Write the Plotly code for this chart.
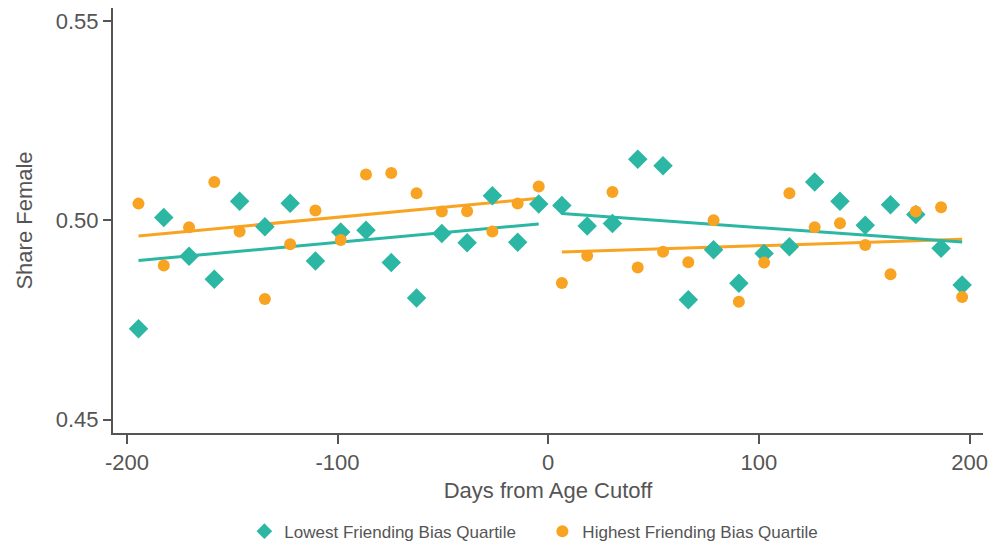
import numpy as np
import plotly.graph_objects as go

# Bin centers (days from the school-entry age cutoff)
days_left = [-194.5, -182.5, -170.5, -158.5, -146.5, -134.5, -122.5, -110.5, -98.5,
             -86.5, -74.5, -62.5, -50.5, -38.5, -26.5, -14.5, -4.5]
days_right = [6.5, 18.5, 30.5, 42.5, 54.5, 66.5, 78.5, 90.5, 102.5, 114.5, 126.5,
              138.5, 150.5, 162.5, 174.5, 186.5, 196.5]

# Share female, lowest friending-bias quartile
low_left = [0.4728, 0.5007, 0.4910, 0.4852, 0.5048, 0.4984, 0.5043, 0.4898, 0.4971,
            0.4975, 0.4894, 0.4805, 0.4967, 0.4944, 0.5062, 0.4945, 0.5041]
low_right = [0.5037, 0.4986, 0.4992, 0.5153, 0.5137, 0.4801, 0.4926, 0.4842, 0.4917,
             0.4934, 0.5096, 0.5048, 0.4988, 0.5039, 0.5015, 0.4930, 0.4838]

# Share female, highest friending-bias quartile
high_left = [0.5042, 0.4887, 0.4983, 0.5096, 0.4972, 0.4803, 0.4940, 0.5025, 0.4951,
             0.5115, 0.5119, 0.5068, 0.5022, 0.5023, 0.4972, 0.5042, 0.5085]
high_right = [0.4843, 0.4911, 0.5071, 0.4882, 0.4921, 0.4895, 0.5000, 0.4796, 0.4894,
              0.5068, 0.4983, 0.4993, 0.4938, 0.4865, 0.5022, 0.5033, 0.4808]

x_ticks = [-200, -100, 0, 100, 200]
y_ticks = [0.45, 0.50, 0.55]

TEAL = "#2BB7A3"
ORANGE = "#F8A422"
GREY = "#555555"
FONT = "Liberation Sans, Arial, Helvetica, sans-serif"


def fit_line(x, y):
    slope, intercept = np.polyfit(x, y, 1)
    xs = np.array([x[0], x[-1]])
    return xs, intercept + slope * xs


fig = go.Figure()

# Linear fits on each side of the cutoff (drawn beneath the markers)
for xs, ys, color in [
    (days_left, high_left, ORANGE),
    (days_right, high_right, ORANGE),
    (days_left, low_left, TEAL),
    (days_right, low_right, TEAL),
]:
    fx, fy = fit_line(xs, ys)
    fig.add_trace(go.Scatter(x=fx, y=fy, mode="lines",
                             line=dict(color=color, width=3),
                             showlegend=False, hoverinfo="skip"))

fig.add_trace(go.Scatter(
    x=days_left + days_right, y=low_left + low_right, mode="markers",
    name="Lowest Friending Bias Quartile",
    marker=dict(symbol="diamond", size=15, color=TEAL),
))
fig.add_trace(go.Scatter(
    x=days_left + days_right, y=high_left + high_right, mode="markers",
    name="Highest Friending Bias Quartile",
    marker=dict(symbol="circle", size=12, color=ORANGE),
))

fig.update_layout(
    width=993, height=546,
    margin=dict(l=113, r=10, t=8, b=113, autoexpand=False),
    paper_bgcolor="white", plot_bgcolor="white",
    font=dict(family=FONT, color=GREY),
    legend=dict(orientation="h", x=0.151, xanchor="left", y=-0.232,
                yanchor="middle", font=dict(size=17, color=GREY),
                entrywidth=253, entrywidthmode="pixels",
                itemsizing="constant", tracegroupgap=0),
)

fig.update_xaxes(
    range=[-206.6, 206.4], tickvals=x_ticks, ticktext=[str(v) for v in x_ticks],
    ticks="outside", ticklen=9, automargin=False,
    tickwidth=2, tickcolor=GREY, showline=True, linecolor=GREY, linewidth=2,
    showgrid=False, zeroline=False, tickfont=dict(size=22, color=GREY),
    title=dict(text="Days from Age Cutoff", font=dict(size=22, color=GREY),
               standoff=8),
)
fig.update_yaxes(
    range=[0.44666, 0.55327], tickvals=y_ticks, tickformat=".2f",
    ticks="outside", ticklen=8, tickwidth=2, tickcolor=GREY, automargin=False,
    showline=True, linecolor=GREY, linewidth=2, showgrid=False, zeroline=False,
    tickfont=dict(size=22, color=GREY),
    title=dict(text="Share Female", font=dict(size=22, color=GREY), standoff=17),
)

fig.write_html("out.html")
